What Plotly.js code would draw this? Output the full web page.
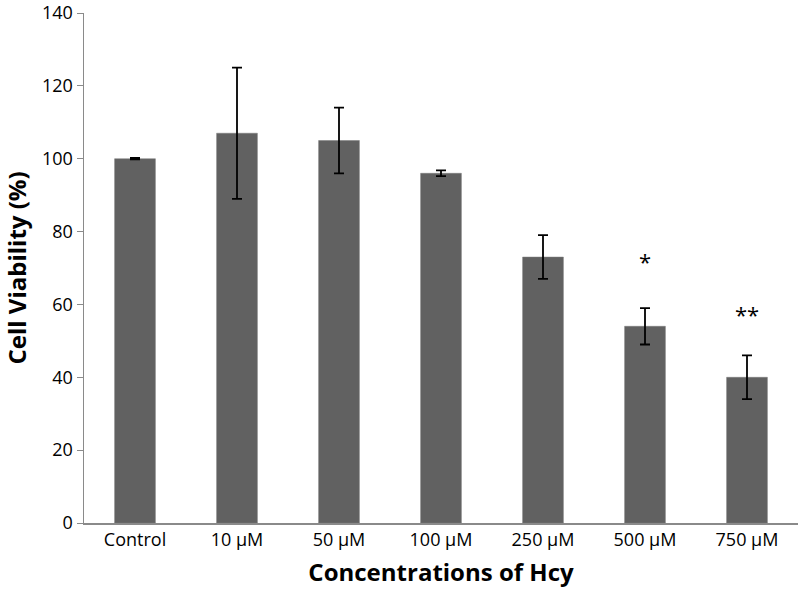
<!DOCTYPE html>
<html>
<head>
<meta charset="utf-8">
<script src="https://cdn.plot.ly/plotly-3.0.1.min.js"></script>
<style>
  html, body { margin: 0; padding: 0; background: #ffffff; }
  #chart { width: 799px; height: 589px; }
</style>
</head>
<body>
<div id="chart"></div>
<script>
  // Cell viability after Hcy exposure — bar chart with SD error bars.
  var CATEGORIES = ["Control", "10 µM", "50 µM", "100 µM", "250 µM", "500 µM", "750 µM"];
  var VIABILITY = [100, 107, 105, 96, 73, 54, 40];
  var ERRORS = [0.2, 18, 9, 0.8, 6, 5, 6];
  var Y_TICKS = [0, 20, 40, 60, 80, 100, 120, 140];

  // Significance markers: which category, label, and height (in %) of the label.
  var SIG_CATS = ["500 µM", "750 µM"];
  var SIG_LABELS = ["*", "**"];
  var SIG_Y = [72, 57.5];

  var BAR_COLOR = "#616161";
  var AXIS_COLOR = "#8a8a8a";
  var FONT = "'Open Sans', 'DejaVu Sans', sans-serif";

  var trace = {
    type: "bar",
    x: CATEGORIES,
    y: VIABILITY,
    marker: { color: BAR_COLOR, line: { color: "#7a7a7a", width: 0.5 } },
    error_y: {
      type: "data",
      array: ERRORS,
      visible: true,
      color: "#000000",
      thickness: 1.8,
      width: 5
    },
    hoverinfo: "skip"
  };

  var annotations = SIG_CATS.map(function (c, i) {
    return {
      x: c,
      y: SIG_Y[i],
      text: SIG_LABELS[i],
      showarrow: false,
      font: { family: FONT, size: 22, color: "#000000" }
    };
  });

  var layout = {
    width: 799,
    height: 589,
    margin: { l: 84, r: 1, t: 13, b: 66 },
    paper_bgcolor: "#ffffff",
    plot_bgcolor: "#ffffff",
    font: { family: FONT, size: 18, color: "#000000" },
    bargap: 0.6,
    showlegend: false,
    xaxis: {
      type: "category",
      showline: true,
      linecolor: AXIS_COLOR,
      linewidth: 1.5,
      ticks: "",
      showgrid: false,
      tickfont: { family: FONT, size: 18, color: "#000000" },
      title: {
        text: "<b>Concentrations of Hcy</b>",
        font: { family: FONT, size: 24, color: "#000000" },
        standoff: 14
      }
    },
    yaxis: {
      range: [0, 140],
      tickmode: "array",
      tickvals: Y_TICKS,
      ticktext: Y_TICKS.map(String),
      ticklabeloverflow: "allow",
      showline: true,
      linecolor: AXIS_COLOR,
      linewidth: 1.5,
      ticks: "outside",
      ticklen: 6,
      tickcolor: AXIS_COLOR,
      showgrid: false,
      zeroline: false,
      tickfont: { family: FONT, size: 18, color: "#000000" },
      title: {
        text: "<b>Cell Viability (%)</b>",
        font: { family: FONT, size: 24, color: "#000000" },
        standoff: 12
      }
    },
    annotations: annotations
  };

  Plotly.newPlot("chart", [trace], layout, { displayModeBar: false, staticPlot: true });
</script>
</body>
</html>
